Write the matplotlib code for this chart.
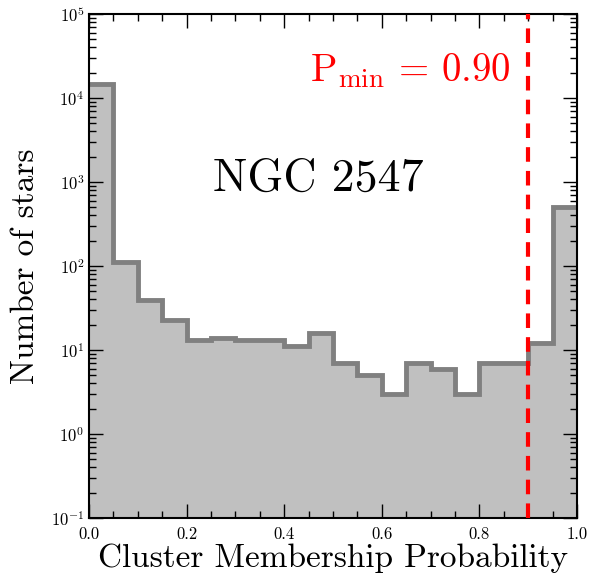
import matplotlib
matplotlib.use("Agg")
import matplotlib.pyplot as plt
import numpy as np
from matplotlib.ticker import LogLocator, MultipleLocator

plt.rcParams["font.family"] = "serif"
plt.rcParams["font.serif"] = ["cmr10", "DejaVu Serif"]
plt.rcParams["mathtext.fontset"] = "cm"
plt.rcParams["axes.formatter.use_mathtext"] = True

# membership probability histogram, 20 bins of width 0.05
edges = np.linspace(0.0, 1.0, 21)
counts = [14700, 112, 39, 23, 13, 14, 13, 13, 11, 16,
          7, 5, 3, 7, 6, 3, 7, 7, 12, 500]
p_min = 0.90
cluster = "NGC 2547"

fig = plt.figure(figsize=(5.9, 5.82), dpi=100)
ax = fig.add_axes([0.151, 0.110, 0.827, 0.866])

ax.stairs(counts, edges, fill=True, color="#c0c0c0", baseline=1e-2, zorder=1)
ax.stairs(counts, edges, color="#808080", lw=3.5, baseline=None, zorder=2)
ax.axvline(p_min, color="red", lw=3, ls=(0, (3.5, 2.2)), zorder=3)

ax.set_yscale("log")
ax.set_xlim(0, 1)
ax.set_ylim(1e-1, 1e5)
ax.xaxis.set_major_locator(MultipleLocator(0.2))
ax.xaxis.set_minor_locator(MultipleLocator(0.05))
ax.yaxis.set_major_locator(LogLocator(base=10, numticks=10))
ax.yaxis.set_minor_locator(LogLocator(base=10, subs=np.arange(2, 10), numticks=10))
ax.xaxis.set_major_formatter(plt.FuncFormatter(lambda v, _: f"{v:.1f}"))

ax.tick_params(which="both", direction="in", top=True, right=True, labelsize=12)
ax.tick_params(axis="x", pad=6)
ax.tick_params(which="major", length=10, width=1)
ax.tick_params(which="minor", length=5, width=1)
for s in ax.spines.values():
    s.set_linewidth(1.5)

ax.set_xlabel("Cluster Membership Probability", fontsize=24, labelpad=1)
ax.set_ylabel("Number of stars", fontsize=24, labelpad=8)

ax.text(0.865, 2.1e4, r"$\mathrm{P_{min}}\,=\,0.90$", color="red", fontsize=28,
        ha="right", va="center")
ax.text(0.47, 1100, cluster, fontsize=33, ha="center", va="center")

fig.savefig("out.png", dpi=100)
